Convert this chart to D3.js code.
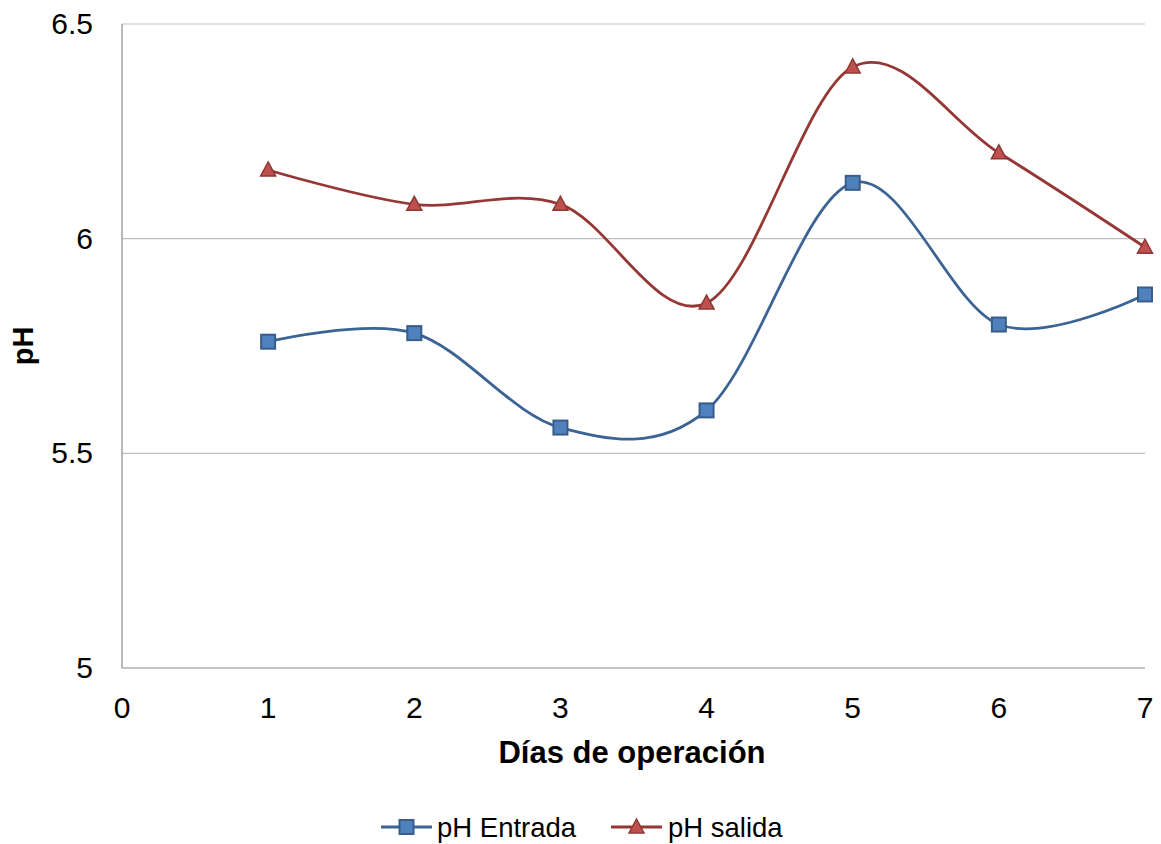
<!DOCTYPE html>
<html>
<head>
<meta charset="utf-8">
<script src="https://cdn.jsdelivr.net/npm/d3@7"></script>
<style>
  html, body { margin: 0; padding: 0; background: #fff; }
  svg { display: block; font-family: "Liberation Sans", Arial, sans-serif; }
</style>
</head>
<body>
<svg id="chart" width="1161" height="844"></svg>
<script>
// Daily pH readings at inlet and outlet
const days = [1, 2, 3, 4, 5, 6, 7];
const phEntrada = [5.76, 5.78, 5.56, 5.60, 6.13, 5.80, 5.87];
const phSalida  = [6.16, 6.08, 6.08, 5.85, 6.40, 6.20, 5.98];
const xTicks = [0, 1, 2, 3, 4, 5, 6, 7];
const yTicks = [5, 5.5, 6, 6.5];

const svg = d3.select("#chart");
const margin = { left: 122, right: 16, top: 24, bottom: 176 };
const W = 1161, H = 844;

const x = d3.scaleLinear().domain([0, 7]).range([margin.left, W - margin.right]);
const y = d3.scaleLinear().domain([5, 6.5]).range([H - margin.bottom, margin.top]);

// horizontal gridlines
svg.append("g")
  .selectAll("line")
  .data(yTicks.filter(d => d !== 5))
  .join("line")
  .attr("x1", x(0)).attr("x2", x(7))
  .attr("y1", d => y(d)).attr("y2", d => y(d))
  .attr("stroke", "#c0c0c0").attr("stroke-width", 1.2);

// axis lines
svg.append("line")
  .attr("x1", x(0)).attr("x2", x(0)).attr("y1", y(6.5)).attr("y2", y(5))
  .attr("stroke", "#8c8c8c").attr("stroke-width", 1.2);
svg.append("line")
  .attr("x1", x(0)).attr("x2", x(7)).attr("y1", y(5)).attr("y2", y(5))
  .attr("stroke", "#8c8c8c").attr("stroke-width", 1.2);

// y tick labels
svg.append("g")
  .selectAll("text")
  .data(yTicks)
  .join("text")
  .attr("x", x(0) - 29)
  .attr("y", d => y(d) + 10)
  .attr("text-anchor", "end")
  .attr("font-size", 30)
  .attr("fill", "#000")
  .text(d => d);

// x tick labels
svg.append("g")
  .selectAll("text")
  .data(xTicks)
  .join("text")
  .attr("x", d => x(d))
  .attr("y", y(5) + 50)
  .attr("text-anchor", "middle")
  .attr("font-size", 30)
  .attr("fill", "#000")
  .text(d => d);

// axis titles
svg.append("text")
  .attr("x", 632)
  .attr("y", 763)
  .attr("text-anchor", "middle")
  .attr("font-size", 31)
  .attr("font-weight", "bold")
  .text("Días de operación");

svg.append("text")
  .attr("transform", `translate(33, ${(y(5) + y(6.5)) / 2}) rotate(-90)`)
  .attr("text-anchor", "middle")
  .attr("font-size", 29)
  .attr("font-weight", "bold")
  .text("pH");

const line = d3.line()
  .x(d => x(d[0]))
  .y(d => y(d[1]))
  .curve(d3.curveCardinal.tension(0));

const series = [
  { name: "pH Entrada", values: phEntrada, line: "#3b6494", fill: "#4f81bd", stroke: "#385d8a", shape: "square" },
  { name: "pH salida",  values: phSalida,  line: "#953735", fill: "#c0504d", stroke: "#8c3836", shape: "triangle" }
];

function drawMarker(g, shape, cx, cy, s) {
  if (shape === "square") {
    g.append("rect")
      .attr("x", cx - 7).attr("y", cy - 7).attr("width", 14).attr("height", 14)
      .attr("fill", s.fill).attr("stroke", s.stroke).attr("stroke-width", 2);
  } else {
    g.append("path")
      .attr("d", `M${cx},${cy - 8} L${cx + 7.5},${cy + 6} L${cx - 7.5},${cy + 6} Z`)
      .attr("fill", s.fill).attr("stroke", s.stroke).attr("stroke-width", 1.5)
      .attr("stroke-linejoin", "miter");
  }
}

series.forEach(s => {
  const pts = days.map((d, i) => [d, s.values[i]]);
  svg.append("path")
    .datum(pts)
    .attr("d", line)
    .attr("fill", "none")
    .attr("stroke", s.line)
    .attr("stroke-width", 2.8);
  const g = svg.append("g");
  pts.forEach(p => drawMarker(g, s.shape, x(p[0]), y(p[1]), s));
});

// legend
const legendY = 827;
const legendItems = [
  { s: series[0], x0: 381, tx: 437 },
  { s: series[1], x0: 611, tx: 668 }
];
legendItems.forEach(li => {
  const g = svg.append("g");
  g.append("line")
    .attr("x1", li.x0).attr("x2", li.x0 + 51)
    .attr("y1", legendY).attr("y2", legendY)
    .attr("stroke", li.s.line).attr("stroke-width", 2.8);
  drawMarker(g, li.s.shape, li.x0 + 25.5, legendY, li.s);
  g.append("text")
    .attr("x", li.tx).attr("y", legendY + 10)
    .attr("font-size", 27.5)
    .text(li.s.name);
});
</script>
</body>
</html>
